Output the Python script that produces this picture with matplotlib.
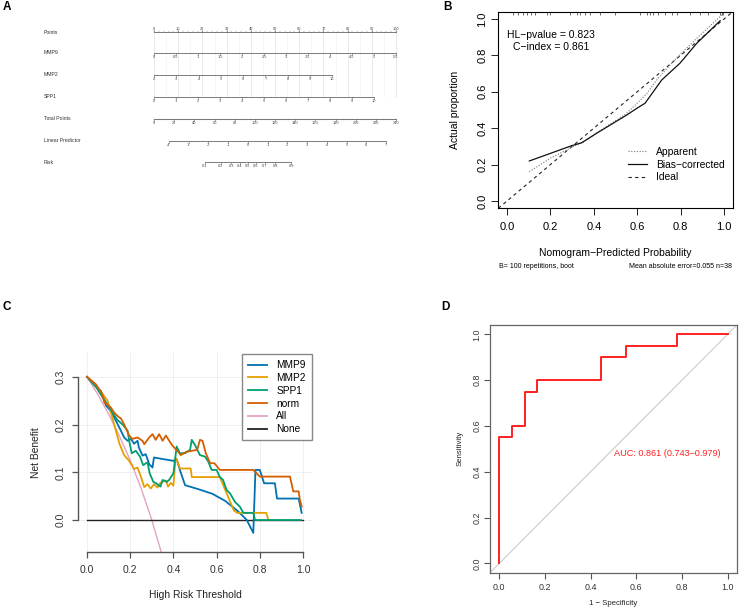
import matplotlib
matplotlib.use('Agg')
import matplotlib.pyplot as plt
from matplotlib.lines import Line2D
import numpy as np

plt.rcParams['font.family'] = ['Liberation Sans', 'DejaVu Sans']

W, H = 739, 612
fig = plt.figure(figsize=(W / 100, H / 100), dpi=100)


def rect(x0, y0, x1, y1):
    return [x0 / W, 1 - y1 / H, (x1 - x0) / W, (y1 - y0) / H]


def ftext(x, y, s, **kw):
    fig.text(x / W, 1 - y / H, s, **kw)


# ---------------- DATA ----------------
# Panel A: nomogram scales
nomo_rows = ['Points', 'MMP9', 'MMP2', 'SPP1', 'Total Points', 'Linear Predictor', 'Risk']
points_ticks = [0, 10, 20, 30, 40, 50, 60, 70, 80, 90, 100]
mmp9_ticks = [0, 0.5, 1, 1.5, 2, 2.5, 3, 3.5, 4, 4.5, 5, 5.5]
mmp9_points_per_unit = 100 / 5.5
mmp2_ticks = [2, 3, 4, 5, 6, 7, 8, 9, 10]
mmp2_points_per_unit = 9.2
spp1_ticks = [0, 1, 2, 3, 4, 5, 6, 7, 8, 9, 10]
spp1_points_per_unit = 9.09
total_ticks = [0, 20, 40, 60, 80, 100, 120, 140, 160, 180, 200, 220, 240]
total_max = 240
lp_ticks = [-4, -3, -2, -1, 0, 1, 2, 3, 4, 5, 6, 7]
lp_zero_points = 38.8
lp_points_per_unit = 8.15
risk_ticks = [0.1, 0.2, 0.3, 0.4, 0.5, 0.6, 0.7, 0.8, 0.9]

# Panel B: calibration
apparent_x = [0.103, 0.2, 0.298, 0.35, 0.42, 0.55, 0.606, 0.644, 0.69, 0.78, 0.88, 0.997]
apparent_y = [0.161, 0.235, 0.295, 0.322, 0.38, 0.48, 0.545, 0.59, 0.665, 0.785, 0.9, 1.03]
bias_x = [0.103, 0.298, 0.344, 0.413, 0.551, 0.598, 0.636, 0.674, 0.713, 0.797, 0.874, 0.982]
bias_y = [0.22, 0.304, 0.32, 0.372, 0.472, 0.509, 0.537, 0.60, 0.665, 0.757, 0.866, 0.99]
rug_x = [0.03, 0.05, 0.074, 0.092, 0.11, 0.129, 0.184, 0.198, 0.29, 0.323, 0.336, 0.359,
         0.382, 0.429, 0.498, 0.613, 0.645, 0.659, 0.673, 0.696, 0.728, 0.76, 0.783,
         0.843, 0.889, 0.926, 0.982, 0.991, 0.995]

# Panel C: decision curves
thr_all = [0, 0.05, 0.1, 0.15, 0.2, 0.25, 0.3, 0.35]
nb_all = [0.3, 0.263, 0.222, 0.176, 0.125, 0.067, 0.0, -0.077]
thr_none = [0, 1]
nb_none = [0, 0]
mmp9_x = [0, 0.04, 0.065, 0.088, 0.11, 0.126, 0.157, 0.172, 0.188, 0.203, 0.218, 0.234,
          0.24, 0.257, 0.272, 0.288, 0.303, 0.31, 0.40, 0.415, 0.43, 0.454, 0.52, 0.58,
          0.64, 0.70, 0.74, 0.77, 0.78, 0.80, 0.82, 0.87, 0.88, 0.98, 0.994]
mmp9_y = [0.3, 0.28, 0.27, 0.24, 0.228, 0.215, 0.187, 0.173, 0.166, 0.17, 0.16, 0.166,
          0.152, 0.135, 0.138, 0.117, 0.11, 0.131, 0.124, 0.128, 0.105, 0.073, 0.064, 0.055,
          0.04, 0.018, 0.0, -0.027, 0.105, 0.105, 0.077, 0.077, 0.045, 0.045, 0.015]
mmp2_x = [0, 0.04, 0.07, 0.095, 0.126, 0.15, 0.172, 0.195, 0.218, 0.234, 0.25, 0.265,
          0.28, 0.295, 0.31, 0.326, 0.34, 0.365, 0.375, 0.388, 0.40, 0.41, 0.418, 0.43,
          0.48, 0.485, 0.615, 0.68, 0.695, 0.83, 0.84]
mmp2_y = [0.3, 0.28, 0.265, 0.25, 0.2, 0.16, 0.136, 0.124, 0.107, 0.11, 0.09, 0.069,
          0.075, 0.066, 0.075, 0.068, 0.078, 0.083, 0.07, 0.078, 0.072, 0.13, 0.124, 0.108,
          0.108, 0.09, 0.09, 0.02, 0.015, 0.015, 0.0]
spp1_x = [0, 0.04, 0.072, 0.103, 0.14, 0.165, 0.188, 0.195, 0.207, 0.226, 0.245, 0.26,
          0.28, 0.29, 0.307, 0.32, 0.34, 0.35, 0.37, 0.38, 0.40, 0.415, 0.43, 0.454, 0.477,
          0.485, 0.50, 0.523, 0.546, 0.562, 0.577, 0.60, 0.615, 0.63, 0.646, 0.662, 0.685,
          0.708, 0.724, 0.77, 0.778, 0.99]
spp1_y = [0.3, 0.28, 0.257, 0.236, 0.21, 0.2, 0.187, 0.166, 0.14, 0.145, 0.133, 0.115,
          0.121, 0.098, 0.08, 0.077, 0.07, 0.084, 0.08, 0.084, 0.098, 0.154, 0.14, 0.14,
          0.147, 0.168, 0.157, 0.136, 0.133, 0.122, 0.105, 0.105, 0.09, 0.084, 0.063,
          0.056, 0.038, 0.028, 0.015, 0.015, 0.0, 0.0]
norm_x = [0, 0.04, 0.07, 0.08, 0.108, 0.126, 0.146, 0.157, 0.172, 0.195, 0.21, 0.234,
          0.257, 0.265, 0.288, 0.303, 0.318, 0.334, 0.35, 0.365, 0.385, 0.395, 0.418,
          0.434, 0.46, 0.51, 0.523, 0.535, 0.55, 0.57, 0.59, 0.615, 0.77, 0.80, 0.94,
          0.955, 0.98, 0.986, 0.994]
norm_y = [0.3, 0.285, 0.265, 0.246, 0.237, 0.225, 0.216, 0.213, 0.2, 0.177, 0.17, 0.173,
          0.166, 0.159, 0.173, 0.18, 0.168, 0.18, 0.166, 0.177, 0.163, 0.156, 0.145,
          0.136, 0.143, 0.147, 0.168, 0.166, 0.14, 0.119, 0.119, 0.105, 0.105, 0.091,
          0.091, 0.06, 0.06, 0.042, 0.028]

# Panel D: ROC
roc_fpr = [0, 0, 0.056, 0.056, 0.111, 0.111, 0.167, 0.167, 0.444, 0.444, 0.556, 0.556,
           0.778, 0.778, 1.0]
roc_tpr = [0, 0.55, 0.55, 0.6, 0.6, 0.75, 0.75, 0.8, 0.8, 0.9, 0.9, 0.95, 0.95, 1.0, 1.0]
auc_label = 'AUC: 0.861 (0.743\u20130.979)'

# ---------------- PANEL A ----------------
axA = fig.add_axes(rect(0, 0, 420, 185))
px_per_pt = 2.42
axA.set_xlim(-154 / px_per_pt, (420 - 154) / px_per_pt)
axA.set_ylim(185, 0)
axA.axis('off')
row_y = [32, 53, 75, 97, 119, 141, 162]
lc = '#666666'
tc = '#444444'

# grid
for v in np.arange(0, 101, 5):
    axA.plot([v, v], [row_y[0], row_y[3]], color='#e2e2e2' if v % 10 == 0 else '#f3f3f3',
             lw=0.5, zorder=0)


def nomo_axis(y, pos, labels, above=False, minor=None):
    axA.plot([pos[0], pos[-1]], [y, y], color=lc, lw=0.6)
    d = -1.6 if above else 1.6
    for p, l in zip(pos, labels):
        axA.plot([p, p], [y, y + d], color=lc, lw=0.4)
        axA.text(p, y + (-3.2 if above else 4.3), l, fontsize=2.8, ha='center',
                 va='center', color=tc)
    if minor is not None:
        for p in minor:
            axA.plot([p, p], [y, y + d * 0.5], color=lc, lw=0.3)


def fmt(v):
    return '%g' % v


nomo_axis(row_y[0], points_ticks, [fmt(v) for v in points_ticks], above=True,
          minor=np.arange(0, 101, 2))
nomo_axis(row_y[1], [v * mmp9_points_per_unit for v in mmp9_ticks], [fmt(v) for v in mmp9_ticks])
nomo_axis(row_y[2], [(v - mmp2_ticks[0]) * mmp2_points_per_unit for v in mmp2_ticks],
          [fmt(v) for v in mmp2_ticks])
nomo_axis(row_y[3], [v * spp1_points_per_unit for v in spp1_ticks], [fmt(v) for v in spp1_ticks])
nomo_axis(row_y[4], [v * 100 / total_max for v in total_ticks], [fmt(v) for v in total_ticks],
          minor=[v * 100 / total_max for v in np.arange(0, total_max + 1, 2.5)])
nomo_axis(row_y[5], [lp_zero_points + lp_points_per_unit * v for v in lp_ticks],
          [fmt(v) for v in lp_ticks])
risk_arr = np.array(risk_ticks)
nomo_axis(row_y[6], list(lp_zero_points + lp_points_per_unit * np.log(risk_arr / (1 - risk_arr))),
          [fmt(v) for v in risk_ticks])
for name, y in zip(nomo_rows, row_y):
    axA.text(-45.5, y, name, fontsize=3.7, ha='left', va='center', color='#333333')

# ---------------- PANEL B ----------------
axB = fig.add_axes(rect(498.3, 11.7, 732.7, 208.3))
axB.set_xlim(-0.04, 1.04)
axB.set_ylim(-0.04, 1.04)
axB.axline((0, 0), (1, 1), color='#222222', lw=0.8, ls=(0, (3, 3)))
axB.plot(apparent_x, apparent_y, color='#777777', lw=0.8, ls=(0, (1, 1.5)))
axB.plot(bias_x, bias_y, color='#111111', lw=0.9)
axB.vlines(rug_x, 0.982, 1.0, transform=axB.get_xaxis_transform(), color='#333333', lw=0.5)
axB.set_xticks([0, 0.2, 0.4, 0.6, 0.8, 1.0])
axB.set_yticks([0, 0.2, 0.4, 0.6, 0.8, 1.0])
axB.set_xticklabels(['0.0', '0.2', '0.4', '0.6', '0.8', '1.0'])
axB.set_yticklabels(['0.0', '0.2', '0.4', '0.6', '0.8', '1.0'], rotation=90, va='center')
axB.tick_params(axis='both', length=5, width=0.7, labelsize=8, color='#222222')
axB.tick_params(axis='x', pad=5)
axB.tick_params(axis='y', pad=3)
for s in axB.spines.values():
    s.set_linewidth(0.8)
axB.set_xlabel('Nomogram\u2212Predicted Probability', fontsize=7.5)
axB.xaxis.set_label_coords(0.5, -(247.5 - 208.3) / 196.6)
axB.set_ylabel('Actual proportion', fontsize=7.5)
axB.yaxis.set_label_coords((460 - 498.3) / 234.4, 0.5)
axB.text(0.0, 0.912, 'HL\u2212pvalue = 0.823', fontsize=7.5, ha='left', va='center')
axB.text(0.028, 0.846, 'C\u2212index = 0.861', fontsize=7.5, ha='left', va='center')
legB = axB.legend(
    handles=[Line2D([], [], color='#777777', lw=0.8, ls=(0, (1, 1.5))),
             Line2D([], [], color='#111111', lw=0.9),
             Line2D([], [], color='#222222', lw=0.8, ls=(0, (3, 3)))],
    labels=['Apparent', 'Bias\u2212corrected', 'Ideal'],
    loc='upper left', bbox_to_anchor=((628 - 498.3) / 234.4, (208.3 - 147) / 196.6),
    frameon=False, fontsize=7.4, handlelength=1.8, handletextpad=0.9,
    labelspacing=0.25, borderpad=0, borderaxespad=0)
ftext(499, 266, 'B= 100 repetitions, boot', fontsize=5, ha='left', va='center')
ftext(732, 266, 'Mean absolute error=0.055 n=38', fontsize=5, ha='right', va='center')

# ---------------- PANEL C ----------------
axC = fig.add_axes(rect(78.4, 353, 311.6, 552))
axC.set_xlim(-0.04, 1.04)
axC.set_ylim(-0.067, 0.35)
axC.grid(True, color='#eeeeee', lw=0.6)
axC.set_axisbelow(True)
c_all = '#E3A3C6'
axC.plot(thr_all, nb_all, color=c_all, lw=1.0)
axC.plot(thr_none, nb_none, color='#222222', lw=1.0)
c9, c2, c1, cn = '#0072B2', '#E69F00', '#009E73', '#D55E00'
axC.plot(mmp9_x, mmp9_y, color=c9, lw=1.3)
axC.plot(mmp2_x, mmp2_y, color=c2, lw=1.3)
axC.plot(spp1_x, spp1_y, color=c1, lw=1.3)
axC.plot(norm_x, norm_y, color=cn, lw=1.3)
for k in ['top', 'right']:
    axC.spines[k].set_visible(False)
axC.spines['left'].set_bounds(0, 0.3)
axC.spines['bottom'].set_bounds(0, 1)
for k in ['left', 'bottom']:
    axC.spines[k].set_color('#555555')
    axC.spines[k].set_linewidth(1.0)
axC.set_xticks([0, 0.2, 0.4, 0.6, 0.8, 1.0])
axC.set_xticklabels(['0.0', '0.2', '0.4', '0.6', '0.8', '1.0'])
axC.set_yticks([0, 0.1, 0.2, 0.3])
axC.set_yticklabels(['0.0', '0.1', '0.2', '0.3'], rotation=90, va='center')
axC.tick_params(axis='both', length=4.3, width=0.9, color='#555555', labelcolor='#333333',
                labelsize=7.5, pad=5)
axC.set_xlabel('High Risk Threshold', fontsize=7.4, color='#222222')
axC.xaxis.set_label_coords(0.5, -(590 - 552) / 199)
axC.set_ylabel('Net Benefit', fontsize=7.4, color='#222222')
axC.yaxis.set_label_coords((41 - 78.4) / 233.2, 0.5)
legC = axC.legend(
    handles=[Line2D([], [], color=c, lw=1.3) for c in [c9, c2, c1, cn, c_all, '#222222']],
    labels=['MMP9', 'MMP2', 'SPP1', 'norm', 'All', 'None'],
    loc='upper right', bbox_to_anchor=(1.0, 0.995), fontsize=7.3, handlelength=1.9,
    handletextpad=0.9, labelspacing=0.28, borderpad=0.6, borderaxespad=0.0,
    fancybox=False, framealpha=1, edgecolor='#888888')
legC.get_frame().set_linewidth(1.0)

# ---------------- PANEL D ----------------
axD = fig.add_axes(rect(490.2, 325.1, 736.8, 572.5))
axD.set_xlim(-0.04, 1.04)
axD.set_ylim(-0.04, 1.04)
axD.axline((0, 0), (1, 1), color='#cccccc', lw=0.8)
axD.plot(roc_fpr, roc_tpr, color='#FF2020', lw=1.4)
axD.text(0.5, 0.5, auc_label, color='#FF2020', fontsize=6.6, ha='left', va='top')
axD.set_xticks([0, 0.2, 0.4, 0.6, 0.8, 1.0])
axD.set_xticklabels(['0.0', '0.2', '0.4', '0.6', '0.8', '1.0'])
axD.set_yticks([0, 0.2, 0.4, 0.6, 0.8, 1.0])
axD.set_yticklabels(['0.0', '0.2', '0.4', '0.6', '0.8', '1.0'], rotation=90, va='center')
axD.tick_params(axis='both', length=4.3, width=0.8, color='#555555', labelcolor='#333333',
                labelsize=6.4)
axD.tick_params(axis='x', pad=3)
axD.tick_params(axis='y', pad=2)
for s in axD.spines.values():
    s.set_color('#666666')
    s.set_linewidth(0.9)
axD.set_xlabel('1 \u2212 Specificity', fontsize=5.6, color='#222222')
axD.xaxis.set_label_coords(0.5, -(600 - 572.5) / 247.4)
axD.set_ylabel('Sensitivity', fontsize=5.6, color='#222222')
axD.yaxis.set_label_coords((464 - 490.2) / 246.6, 0.5)

# ---------------- PANEL LETTERS ----------------
for lab, x, y in [('A', 7, 7), ('B', 447, 7), ('C', 7, 307), ('D', 445, 307)]:
    ftext(x, y, lab, fontsize=8.5, fontweight='bold', ha='center', va='center')

fig.savefig('out.png', dpi=100)
